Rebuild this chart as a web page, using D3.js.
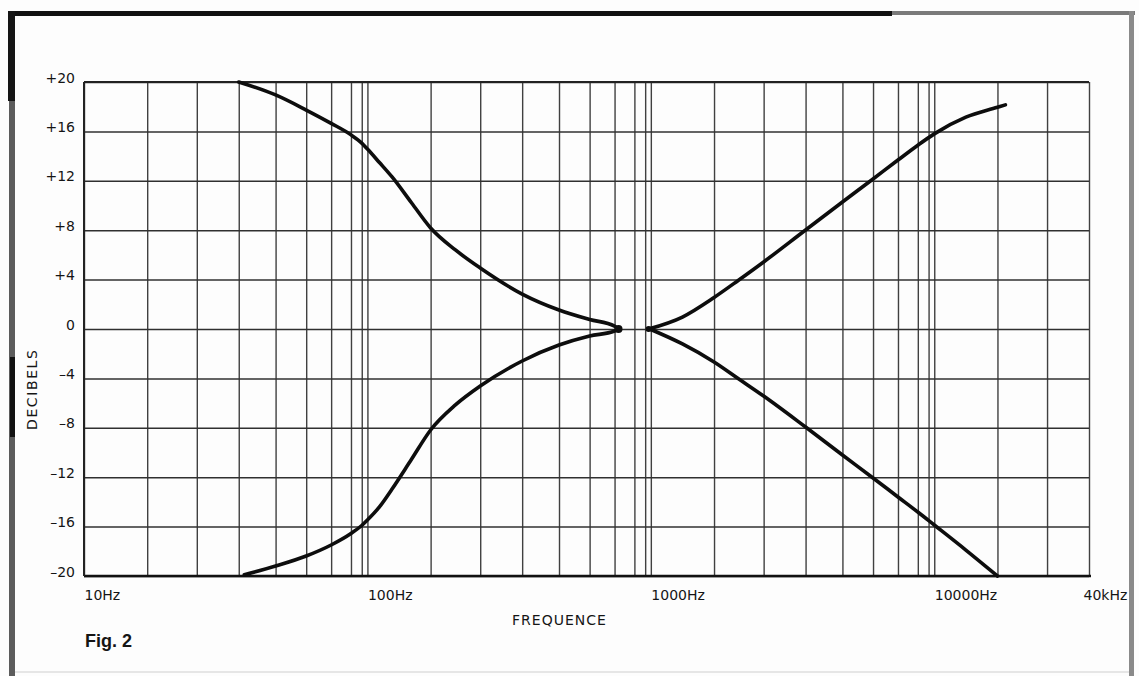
<!DOCTYPE html>
<html>
<head>
<meta charset="utf-8">
<script src="https://cdn.jsdelivr.net/npm/d3@7"></script>
<style>
  html, body { margin: 0; padding: 0; background: #fdfdfd; }
  svg { display: block; }
  text { font-family: "DejaVu Sans", "Liberation Sans", sans-serif; fill: #151515; }
</style>
</head>
<body>
<svg id="chart" width="1139" height="676"></svg>
<script>
// Tone-control response: bass boost / cut and treble boost / cut (dB vs frequency)
const bassBoostHz   = [40, 50, 60, 70, 80, 90, 100, 119, 139, 170, 200, 250, 300, 400, 500, 600, 700, 720];
const bassBoostDb   = [20, 18.95, 17.73, 16.65, 15.72, 15.05, 14.57, 13.48, 12.31, 10.2, 8.18, 6.4, 4.94, 2.83, 1.54, 0.77, 0.24, 0];

const bassCutHz     = [41.5, 50, 60, 70, 80, 90, 100, 119, 139, 170, 200, 250, 300, 400, 500, 600, 700, 720];
const bassCutDb     = [-19.9, -19.19, -18.38, -17.49, -16.56, -15.91, -15.47, -14.41, -12.96, -10.53, -8.18, -6.15, -4.62, -2.59, -1.3, -0.57, -0.16, 0];

const trebleBoostHz = [960, 1500, 2000, 2500, 3000, 4000, 5000, 6000, 7000, 8000, 10000, 15000, 20000, 21600];
const trebleBoostDb = [0, 0.97, 2.55, 3.97, 5.43, 8.02, 10.28, 12.15, 13.68, 14.88, 15.8, 17.15, 17.95, 18.15];

const trebleCutHz   = [980, 1500, 2000, 2500, 3000, 4000, 5000, 6000, 7000, 8000, 10000, 15000, 20000];
const trebleCutDb   = [0, -1.21, -2.67, -4.05, -5.43, -7.94, -10.2, -12.06, -13.6, -14.82, -15.87, -17.9, -20];

const freqTicks  = [10, 100, 1000, 10000, 40000];
const freqLabels = ["10Hz", "100Hz", "1000Hz", "10000Hz", "40kHz"];
const dbTicks    = [20, 16, 12, 8, 4, 0, -4, -8, -12, -16, -20];
const dbLabels   = ["+20", "+16", "+12", "+8", "+4", "0", "\u20134", "\u20138", "\u201312", "\u201316", "\u201320"];

const svg = d3.select("#chart");
const W = 1139, H = 676;
const plot = { left: 84, right: 1089, top: 82, bottom: 576 };

// ---- frame around the figure ----
const frame = svg.append("g");
frame.append("rect").attr("x", 0).attr("y", 0).attr("width", W).attr("height", H).attr("fill", "#fdfdfd");
frame.append("rect").attr("x", 8).attr("y", 11).attr("width", 884).attr("height", 5).attr("fill", "#111");
frame.append("rect").attr("x", 892).attr("y", 11).attr("width", 243).attr("height", 4).attr("fill", "#7a7a7a");
frame.append("rect").attr("x", 1129).attr("y", 11).attr("width", 5).attr("height", H - 11).attr("fill", "#8a8a8a");
frame.append("rect").attr("x", 9).attr("y", 11).attr("width", 6).attr("height", H - 11).attr("fill", "#5c5c5c");
frame.append("rect").attr("x", 8).attr("y", 11).attr("width", 7).attr("height", 90).attr("fill", "#151515");
frame.append("rect").attr("x", 10).attr("y", 357).attr("width", 5).attr("height", 80).attr("fill", "#111");
frame.append("rect").attr("x", 15).attr("y", 671).attr("width", 1114).attr("height", 2).attr("fill", "#e6e6e6");

// ---- scales ----
// The chart paper places the 2..9 multiples of each decade at these fractions of the decade width.
const ruling = [0, 0.223, 0.398, 0.546, 0.676, 0.784, 0.872, 0.942, 0.98];
const gridFreqs = [];
[10, 100, 1000, 10000].forEach(dec => {
  for (let m = 1; m <= 9; m++) if (m * dec <= 40000) gridFreqs.push(m * dec);
});
const decadeUnits = f => {
  const e = Math.floor(Math.log10(f) + 1e-9);
  const m = Math.round(f / Math.pow(10, e));
  return e + ruling[m - 1];
};
const unitsToPx = d3.scaleLinear()
  .domain([1, decadeUnits(40000)])
  .range([plot.left, plot.right]);
const x = d3.scaleLinear()
  .domain(gridFreqs)
  .range(gridFreqs.map(f => unitsToPx(decadeUnits(f))));
const y = d3.scaleLinear().domain([-20, 20]).range([plot.bottom, plot.top]);

// ---- grid ----
const gridX = svg.append("g")
  .attr("transform", `translate(0,${plot.bottom})`)
  .call(d3.axisBottom(x).tickValues(gridFreqs).tickSize(-(plot.bottom - plot.top)).tickFormat(""));
gridX.select(".domain").remove();
gridX.selectAll(".tick line").attr("stroke", "#404040").attr("stroke-width", 1.4);

const gridY = svg.append("g")
  .attr("transform", `translate(${plot.left},0)`)
  .call(d3.axisLeft(y).tickValues(dbTicks).tickSize(-(plot.right - plot.left)).tickFormat(""));
gridY.select(".domain").remove();
gridY.selectAll(".tick line").attr("stroke", "#303030").attr("stroke-width", 1.5);

// plot border
svg.append("line").attr("x1", plot.left).attr("x2", plot.right + 2)
  .attr("y1", y(-20)).attr("y2", y(-20)).attr("stroke", "#111").attr("stroke-width", 2.6);
svg.append("line").attr("x1", plot.left).attr("x2", plot.right)
  .attr("y1", y(20)).attr("y2", y(20)).attr("stroke", "#222").attr("stroke-width", 1.8);
svg.append("line").attr("x1", x(10)).attr("x2", x(10))
  .attr("y1", plot.top).attr("y2", plot.bottom).attr("stroke", "#222").attr("stroke-width", 2);

// ---- tick labels ----
const xAxis = svg.append("g")
  .attr("transform", `translate(0,${plot.bottom})`)
  .call(d3.axisBottom(x).tickValues(freqTicks).tickSize(0).tickPadding(0)
    .tickFormat((d, i) => freqLabels[i]));
xAxis.select(".domain").remove();
xAxis.selectAll(".tick text")
  .attr("text-anchor", "start")
  .attr("dy", 0).attr("y", 24)
  .attr("dx", (d, i) => i === freqTicks.length - 1 ? -6 : 0)
  .style("font-size", "14px").attr("fill", "#151515");

const yAxis = svg.append("g")
  .attr("transform", `translate(${plot.left},0)`)
  .call(d3.axisLeft(y).tickValues(dbTicks).tickSize(0).tickPadding(0)
    .tickFormat((d, i) => dbLabels[i]));
yAxis.select(".domain").remove();
yAxis.selectAll(".tick text")
  .attr("x", -9).attr("dy", 0)
  .style("font-size", "14px").attr("fill", "#151515");

// axis titles
svg.append("text").attr("x", 512).attr("y", 625)
  .style("font-size", "14px").style("letter-spacing", "1px").text("FREQUENCE");
svg.append("text").attr("transform", "translate(37,430) rotate(-90)")
  .style("font-size", "14px").style("letter-spacing", "1.6px").text("DECIBELS");
svg.append("text").attr("x", 85).attr("y", 647)
  .style("font-family", "'Liberation Sans', Arial, sans-serif")
  .style("font-weight", "bold").style("font-size", "18px").text("Fig. 2");

// ---- response curves ----
const line = d3.line()
  .x(d => x(d[0]))
  .y(d => y(d[1]))
  .curve(d3.curveMonotoneX);

const series = [
  [bassBoostHz, bassBoostDb],
  [bassCutHz, bassCutDb],
  [trebleBoostHz, trebleBoostDb],
  [trebleCutHz, trebleCutDb]
];
svg.append("g").selectAll("path")
  .data(series.map(([hz, db]) => hz.map((f, i) => [f, db[i]])))
  .join("path")
  .attr("d", line)
  .attr("fill", "none")
  .attr("stroke", "#0d0d0d")
  .attr("stroke-width", 3.6)
  .attr("stroke-linecap", "round");

// junction blobs where the curves meet the 0 dB line
svg.append("g").selectAll("circle")
  .data([[bassBoostHz[bassBoostHz.length - 1], 0, 4], [trebleBoostHz[0], 0, 3]])
  .join("circle")
  .attr("cx", d => x(d[0])).attr("cy", d => y(d[1])).attr("r", d => d[2])
  .attr("fill", "#0d0d0d");
</script>
</body>
</html>
